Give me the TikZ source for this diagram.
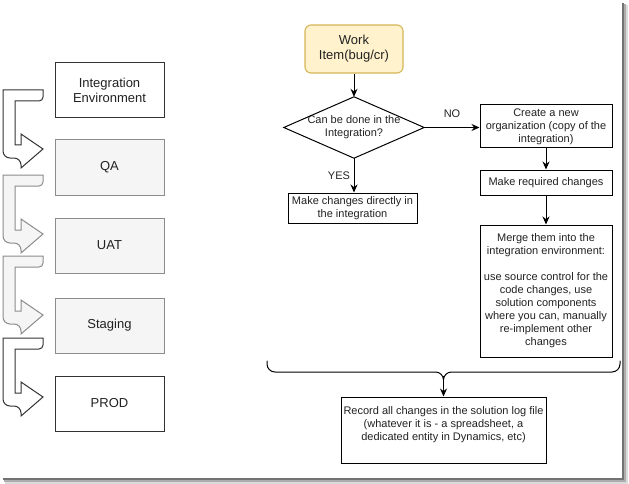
\documentclass[tikz,border=0pt]{standalone}
\usepackage{fontspec}
\setmainfont{Liberation Sans}
\usetikzlibrary{arrows.meta,calc}
\definecolor{txt}{HTML}{222222}
\definecolor{dk}{HTML}{333333}
\definecolor{gr}{HTML}{8C8C8C}
\definecolor{grfill}{HTML}{F5F5F5}
\definecolor{yfill}{HTML}{FFF2CC}
\definecolor{ystroke}{HTML}{D6B656}
\tikzset{
  envbox/.style={draw=dk, line width=1pt, fill=white, minimum width=109pt, minimum height=55pt, inner sep=0pt, align=center, text=txt, font=\fontsize{13}{15}\selectfont},
  envgray/.style={envbox, draw=gr, fill=grfill},
  flowbox/.style={draw=black, line width=1pt, fill=white, inner sep=0pt, align=center, text=txt, font=\fontsize{11}{13}\selectfont},
  workbox/.style={draw=ystroke, line width=1.1pt, fill=yfill, rounded corners=6pt, minimum width=98pt, minimum height=48pt, inner sep=0pt, align=center, text=txt, font=\fontsize{13}{15}\selectfont},
  conn/.style={draw=black, line width=1pt, -{Stealth[length=8pt,width=7pt]}},
  lbl/.style={text=txt, font=\fontsize{11}{13}\selectfont, inner sep=0pt},
  bentdark/.style={draw=dk, line width=1pt, fill=white},
  bentgray/.style={draw=gr, line width=1pt, fill=grfill},
}
\newcommand\mybent[2]{%
  \draw[#1] (43,#2) -- (3,#2) [rounded corners=7pt] -- (3,#2+68) -- (21,#2+68) [sharp corners] -- (21,#2+78) -- (43,#2+59) -- (21,#2+44) -- (21,#2+55) -- (15,#2+55) -- (15,#2+11) [rounded corners=4pt] -- (43,#2+11) [sharp corners] -- cycle;}
\begin{document}
\begin{tikzpicture}[x=1pt,y=-1pt]
\useasboundingbox (0,0) rectangle (629,484);
% screenshot shadow
\fill[black!55] (622,3) rectangle (623.5,479);
\fill[black!32] (623.5,4) rectangle (625.5,481);
\fill[black!14] (625.5,5) rectangle (628,483);
\fill[black!55] (3,478) rectangle (623.5,479.5);
\fill[black!32] (4,479.5) rectangle (625.5,481.5);
\fill[black!14] (5,481.5) rectangle (628,483.5);

% left column
\node[envbox] (int) at (109.5,90.5) {Integration\\Environment};
\node[envgray] (qa) at (109.5,167.5) {QA};
\node[envgray] (uat) at (109.5,245.5) {UAT};
\node[envgray] (stg) at (109.5,325.5) {Staging};
\node[envbox] (prod) at (109.5,403.5) {PROD};

\mybent{bentdark}{90}
\mybent{bentgray}{175}
\mybent{bentgray}{256}
\mybent{bentdark}{338}

% flowchart
\node[workbox] (work) at (354,49) {Work\\Item(bug/cr)};
\node[minimum width=140pt, minimum height=61pt, inner sep=0pt, align=center, text=txt, font=\fontsize{11}{13}\selectfont] (dec) at (354,127.5) {Can be done in the\\Integration?};
\draw[line width=1pt, fill=none] (dec.north) -- (dec.east) -- (dec.south) -- (dec.west) -- cycle;
\node[flowbox, minimum width=129pt, minimum height=30pt] (yes) at (352.5,208) {Make changes directly in\\the integration};
\node[flowbox, minimum width=132pt, minimum height=43pt] (create) at (546,126.5) {Create a new\\organization (copy of the\\integration)};
\node[flowbox, minimum width=132pt, minimum height=25pt] (req) at (546,182.5) {Make required changes};
\node[flowbox, minimum width=132pt, minimum height=132pt] (merge) at (546,291) {Merge them into the\\integration environment:\\[13pt]use source control for the\\code changes, use\\solution components\\where you can, manually\\re-implement other\\changes};
\node[flowbox, minimum width=205pt, minimum height=66pt] (rec) at (443.5,430) {Record all changes in the solution log file\\(whatever it is - a spreadsheet, a\\dedicated entity in Dynamics, etc)\\\mbox{}};

\draw[conn] (work.south) -- (dec.north);
\draw[conn] (dec.south) -- (dec.south |- yes.north);
\draw[conn] (dec.east) -- (dec.east -| create.west);
\draw[conn] (create.south) -- (req.north);
\draw[conn] (req.south) -- (merge.north);
\node[lbl] (yeslbl) at (339,176) {YES};
\node[lbl] (nolbl) at (452,114) {NO};

% brace
\coordinate (btip) at (443.5,376);
\draw[line width=1pt, line cap=round] (267,361) -- (267,364) arc[start angle=180, end angle=90, radius=8] -- (435.5,372) arc[start angle=-90, end angle=0, radius=8] coordinate (bmid);
\draw[line width=1pt, line cap=round] (620,361) -- (620,364) arc[start angle=0, end angle=90, radius=8] -- (451.5,372) arc[start angle=270, end angle=180, radius=8];
\draw[conn] (btip) -- (rec.north);
\end{tikzpicture}
\end{document}
